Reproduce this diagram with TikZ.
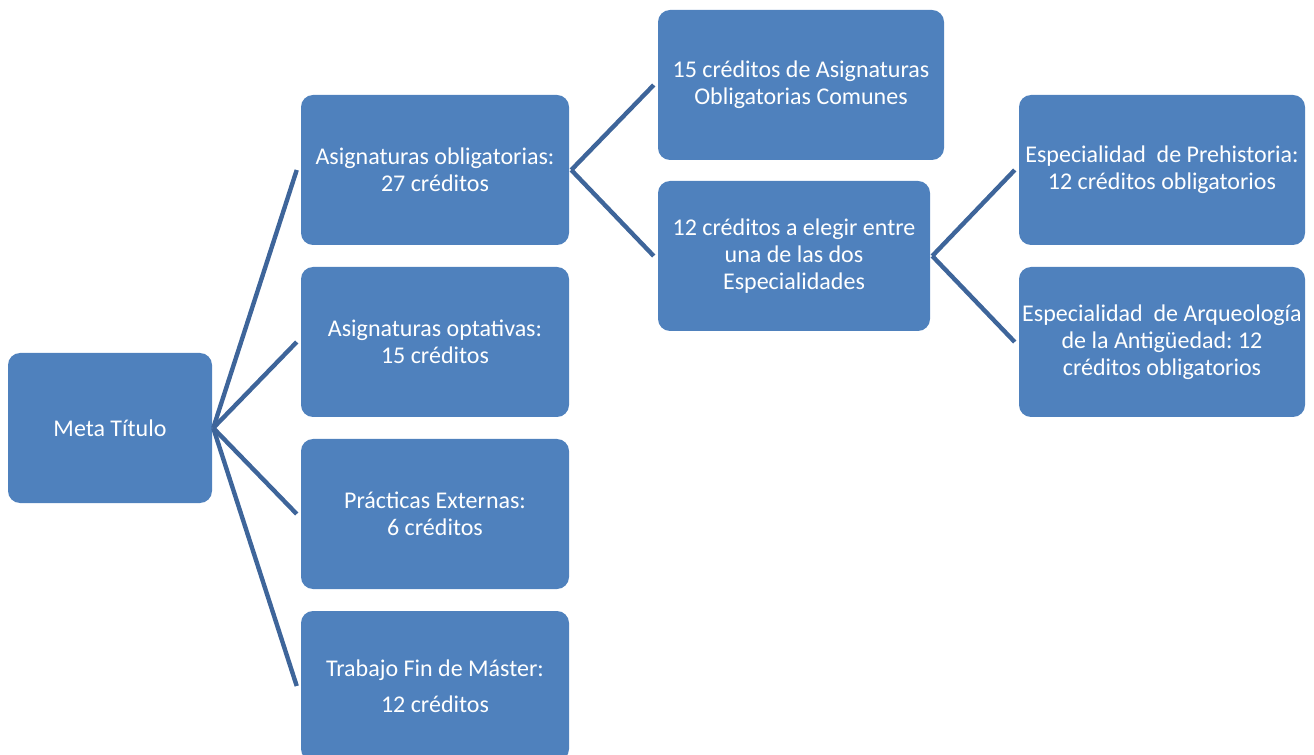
\documentclass[tikz,border=0pt]{standalone}
\usepackage{fontspec}
\setmainfont{Carlito}
\frenchspacing
\definecolor{boxblue}{RGB}{79,129,189}
\definecolor{lineblue}{RGB}{62,101,154}
\tikzset{
  blockbox/.style={fill=boxblue, rounded corners=9pt, text=white, align=center,
    font=\fontsize{18}{20.25}\selectfont, inner sep=0pt, minimum height=112.5pt},
  branch/.style={draw=lineblue, line width=3.3pt},
}
\begin{document}
\begin{tikzpicture}[x=0.75pt,y=0.75pt,yscale=-1,xscale=1]
  \useasboundingbox (0,0) rectangle (1314,755);
  \clip (0,0) rectangle (1314,755);
  % Level 1
  \node [blockbox, minimum width=153pt] (meta) at (110,428) {Meta Título};
  % Level 2
  \node [blockbox, minimum width=201pt] (oblig) at (435,170) {Asignaturas obligatorias:\\27 créditos};
  \node [blockbox, minimum width=201pt] (optat) at (435,342) {Asignaturas optativas:\\15 créditos};
  \node [blockbox, minimum width=201pt] (practicas) at (435,514) {Prácticas Externas:\\6 créditos};
  \node [blockbox, minimum width=201pt] (tfm) at (435,686) {Trabajo Fin de Máster:\\[6.75pt]12 créditos};
  % Level 3
  \node [blockbox, minimum width=214.5pt] (comunes) at (801,85) {15 créditos de Asignaturas\\Obligatorias Comunes};
  \node [blockbox, minimum width=204pt] (elegir) at (794,256) {12 créditos a elegir entre\\una de las dos\\Especialidades};
  % Level 4
  \node [blockbox, minimum width=214.5pt] (prehist) at (1162,170) {Especialidad~ de Prehistoria:\\12 créditos obligatorios};
  \node [blockbox, minimum width=214.5pt] (arqueo) at (1162,342) {Especialidad~ de Arqueología\\de la Antigüedad: 12\\créditos obligatorios};
  % Connectors
  \foreach \child in {oblig,optat,practicas,tfm}
    \draw [branch] ([xshift=0.75pt]meta.east) -- ([xshift=-3pt]\child.west);
  \foreach \child in {comunes,elegir}
    \draw [branch] ([xshift=1.5pt]oblig.east) -- ([xshift=-3pt]\child.west);
  \foreach \child in {prehist,arqueo}
    \draw [branch] ([xshift=1.5pt]elegir.east) -- ([xshift=-3pt]\child.west);
\end{tikzpicture}
\end{document}
